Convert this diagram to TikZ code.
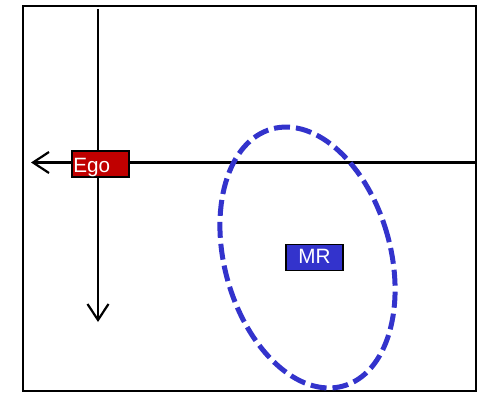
\documentclass[tikz,border=0pt]{standalone}
\usepackage{fontspec}
\setmainfont{Liberation Sans}
\usetikzlibrary{arrows.meta}
\definecolor{egored}{RGB}{192,0,0}
\definecolor{mrblue}{RGB}{51,51,204}
\tikzset{
  frame/.style={draw=black, line width=1.9pt},
  axis/.style={draw=black, line width=2.2pt, -{Straight Barb[length=16pt,width=21pt,line width=2.2pt]}},
  tagbox/.style={draw=black, line width=1.5pt, text=white, font=\fontsize{20.7pt}{22pt}\selectfont,
    minimum height=26pt, inner ysep=0pt},
  region/.style={draw=mrblue, line width=5pt, dash pattern=on 16pt off 6pt}
}
\begin{document}
\begin{tikzpicture}[x=1pt,y=-1pt]
  \useasboundingbox (0,0) rectangle (478,393);
  % outer frame
  \draw[frame] (23,6) rectangle (476,391);
  % coordinate axes centred on Ego
  \coordinate (vtop) at (98,9);
  \coordinate (vend) at (98,322);
  \coordinate (hstart) at (476,162.5);
  \coordinate (hend) at (31,162.5);
  \draw[axis] (vtop) -- (vend);
  \draw[axis] (hstart) -- (hend);
  % Ego marker
  \node[tagbox, fill=egored, text width=54.5pt, inner xsep=1.25pt, align=left,
        text height=18pt, text depth=2pt] (ego) at (100.5,164) {Ego};
  % MR marker
  \node[tagbox, fill=mrblue, minimum width=57pt, inner xsep=0pt,
        text height=15pt, text depth=3.5pt] (mr) at (314.5,257.5) {MR};
  % dashed region around MR
  \draw[region, rotate around={15.5:(307.5,257.5)}]
    (307.5,257.5) ellipse [x radius=83pt, y radius=133.4pt];
\end{tikzpicture}
\end{document}
